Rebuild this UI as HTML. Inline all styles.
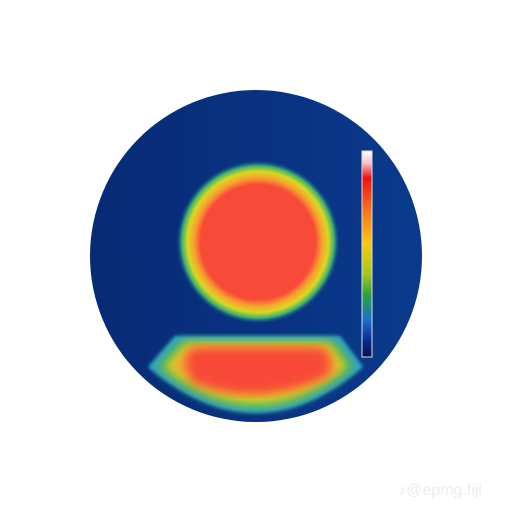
<!DOCTYPE html>
<html><head><meta charset="utf-8"><style>
html,body{margin:0;padding:0;background:#fff;width:512px;height:512px;overflow:hidden}
svg{display:block}
</style></head><body>
<svg width="512" height="512" viewBox="0 0 512 512">
<defs>
<radialGradient id="head" cx="0.5" cy="0.5" r="0.5">
<stop offset="0" stop-color="#f84a38"/>
<stop offset="0.7" stop-color="#f84a38"/>
<stop offset="0.78" stop-color="#f7a030"/>
<stop offset="0.86" stop-color="#d9d820"/>
<stop offset="0.93" stop-color="#3ab070"/>
<stop offset="1" stop-color="#0a3c9a" stop-opacity="0"/>
</radialGradient>
<linearGradient id="bg" x1="0" y1="0" x2="1" y2="0">
<stop offset="0" stop-color="#072a75"/>
<stop offset="1" stop-color="#0a3a8c"/>
</linearGradient>
<linearGradient id="cbar" x1="0" y1="0" x2="0" y2="1">
<stop offset="0" stop-color="#ffffff"/>
<stop offset="0.06" stop-color="#f4c0c8"/>
<stop offset="0.13" stop-color="#f01010"/>
<stop offset="0.3" stop-color="#f77a20"/>
<stop offset="0.45" stop-color="#f8c810"/>
<stop offset="0.6" stop-color="#a0c820"/>
<stop offset="0.7" stop-color="#2aa040"/>
<stop offset="0.82" stop-color="#1a70d0"/>
<stop offset="0.92" stop-color="#0a2a90"/>
<stop offset="1" stop-color="#06104a"/>
</linearGradient>
<filter id="b1"><feGaussianBlur stdDeviation="1.5"/></filter>
<filter id="b2"><feGaussianBlur stdDeviation="5"/></filter>
</defs>
<circle cx="256" cy="256" r="166" fill="url(#bg)"/>
<circle cx="258" cy="242" r="82" fill="url(#head)"/>
<g>
<path d="M175,336 L340,336 L363,367 Q256,459 148,367 Z" fill="#2aa2d0" filter="url(#b1)"/>
<path d="M180,340 L335,340 L356,367 Q256,450 155,367 Z" fill="#4cb058" filter="url(#b2)"/>
<path d="M186,343 L330,343 L347,367 Q256,440 164,367 Z" fill="#d6d820" filter="url(#b2)"/>
<path d="M191,346 L324,346 L340,368 Q256,424 172,368 Z" fill="#f7a030" filter="url(#b2)"/>
<path d="M198,348 L318,348 Q336,350 328,376 Q256,408 192,382 Q178,350 198,348 Z" fill="#f84a38" filter="url(#b2)"/>
</g>
<rect x="362" y="151" width="10" height="206" fill="url(#cbar)" stroke="#ddd" stroke-width="1"/>
<text x="440" y="495" font-family="Liberation Sans, sans-serif" font-size="16" fill="#ececec" text-anchor="middle">♪@epmg.fiji</text>
</svg>
</body></html>
